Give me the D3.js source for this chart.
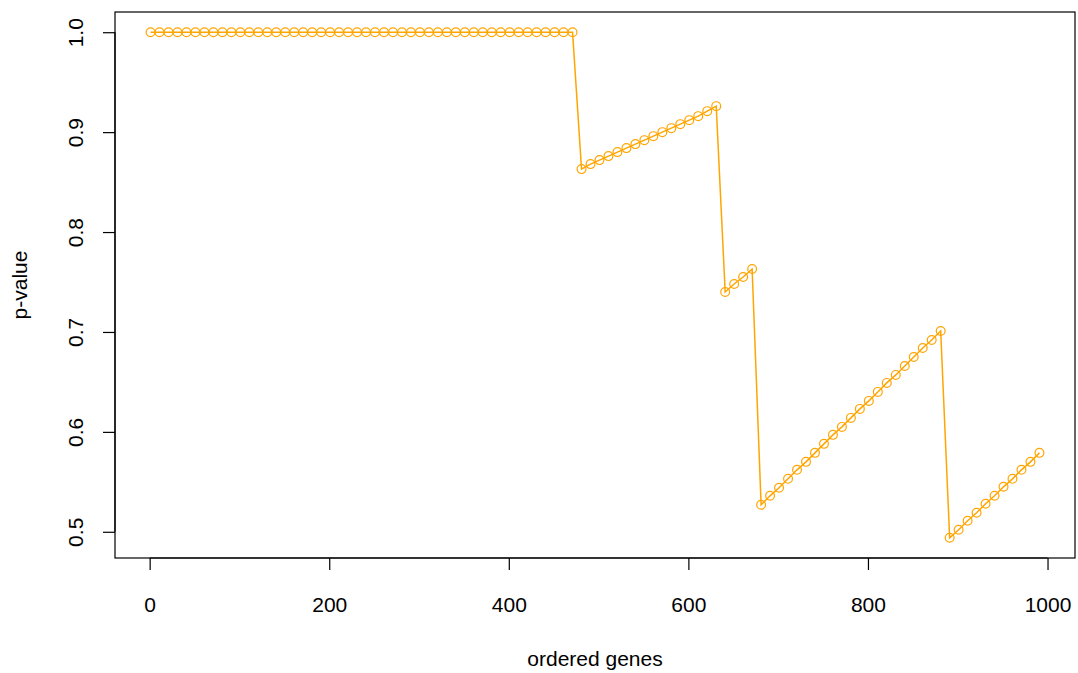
<!DOCTYPE html>
<html>
<head>
<meta charset="utf-8">
<script src="https://cdn.jsdelivr.net/npm/d3@7"></script>
<style>
  html, body { margin: 0; padding: 0; background: #ffffff; }
  svg { display: block; }
  text { font-family: "Liberation Sans", Arial, sans-serif; fill: #000; }
</style>
</head>
<body>
<svg id="chart" width="1078" height="673"></svg>
<script>
// Gene rank (every 10th gene along the ordering)
const geneRank = [
  1, 11, 21, 31, 41, 51, 61, 71, 81, 91,
  101, 111, 121, 131, 141, 151, 161, 171, 181, 191,
  201, 211, 221, 231, 241, 251, 261, 271, 281, 291,
  301, 311, 321, 331, 341, 351, 361, 371, 381, 391,
  401, 411, 421, 431, 441, 451, 461, 471, 481, 491,
  501, 511, 521, 531, 541, 551, 561, 571, 581, 591,
  601, 611, 621, 631, 641, 651, 661, 671, 681, 691,
  701, 711, 721, 731, 741, 751, 761, 771, 781, 791,
  801, 811, 821, 831, 841, 851, 861, 871, 881, 891,
  901, 911, 921, 931, 941, 951, 961, 971, 981, 991
];

// p-value at each ranked gene
const pValue = [
  1, 1, 1, 1, 1, 1, 1, 1, 1, 1,
  1, 1, 1, 1, 1, 1, 1, 1, 1, 1,
  1, 1, 1, 1, 1, 1, 1, 1, 1, 1,
  1, 1, 1, 1, 1, 1, 1, 1, 1, 1,
  1, 1, 1, 1, 1, 1, 1, 1,
  0.863, 0.868, 0.872, 0.876, 0.880, 0.884, 0.888, 0.892,
  0.896, 0.900, 0.904, 0.908, 0.912, 0.916, 0.921, 0.926,
  0.740, 0.748, 0.755, 0.763,
  0.527, 0.536, 0.544, 0.553, 0.562, 0.570, 0.579, 0.588, 0.597, 0.605,
  0.614, 0.623, 0.631, 0.640, 0.649, 0.657, 0.666, 0.675, 0.684, 0.692, 0.701,
  0.494, 0.502, 0.511, 0.519, 0.528, 0.536, 0.545, 0.553, 0.562, 0.570, 0.579
];

const xTicks = [0, 200, 400, 600, 800, 1000];
const yTicks = [0.5, 0.6, 0.7, 0.8, 0.9, 1.0];

const xTitle = "ordered genes";
const yTitle = "p-value";
const seriesColor = "#FFA500";

const points = geneRank.map((g, i) => ({ x: g, y: pValue[i] }));

// Plot region
const box = { left: 115, right: 1075, top: 12, bottom: 558 };

// Data range padded by 4% on each side
function padded(ext) {
  const d = (ext[1] - ext[0]) * 0.04;
  return [ext[0] - d, ext[1] + d];
}

const x = d3.scaleLinear()
  .domain(padded(d3.extent(geneRank)))
  .range([box.left, box.right]);

const y = d3.scaleLinear()
  .domain(padded(d3.extent(pValue)))
  .range([box.bottom, box.top]);

const svg = d3.select("#chart");
const fontSize = 21;
const fontFamily = "'Liberation Sans', Arial, sans-serif";

// Series line
svg.append("path")
  .datum(points)
  .attr("fill", "none")
  .attr("stroke", seriesColor)
  .attr("stroke-width", 1.5)
  .attr("d", d3.line().x(d => x(d.x)).y(d => y(d.y)));

// Open circle markers
svg.append("g")
  .selectAll("circle")
  .data(points)
  .join("circle")
  .attr("cx", d => x(d.x))
  .attr("cy", d => y(d.y))
  .attr("r", 4.4)
  .attr("fill", "none")
  .attr("stroke", seriesColor)
  .attr("stroke-width", 1.2);

// Frame
svg.append("rect")
  .attr("x", box.left)
  .attr("y", box.top)
  .attr("width", box.right - box.left)
  .attr("height", box.bottom - box.top)
  .attr("fill", "none")
  .attr("stroke", "#000")
  .attr("stroke-width", 1.2);

// Bottom axis
const xAxis = svg.append("g")
  .attr("transform", `translate(0,${box.bottom})`)
  .call(d3.axisBottom(x).tickValues(xTicks).tickSize(12).tickFormat(d3.format("d")));
xAxis.select(".domain")
  .attr("d", `M${x(xTicks[0])},0H${x(xTicks[xTicks.length - 1])}`)
  .attr("stroke-width", 1.2);
xAxis.selectAll(".tick line").attr("stroke-width", 1.2);
xAxis.selectAll(".tick text")
  .attr("y", 0)
  .attr("dy", null)
  .attr("transform", "translate(0,54)")
  .style("font-size", fontSize + "px")
  .style("font-family", fontFamily)
  .attr("fill", "#000");

// Left axis with rotated labels
const yAxis = svg.append("g")
  .attr("transform", `translate(${box.left},0)`)
  .call(d3.axisLeft(y).tickValues(yTicks).tickSize(12).tickFormat(d3.format(".1f")));
yAxis.select(".domain")
  .attr("d", `M0,${y(yTicks[0])}V${y(yTicks[yTicks.length - 1])}`)
  .attr("stroke-width", 1.2);
yAxis.selectAll(".tick line").attr("stroke-width", 1.2);
yAxis.selectAll(".tick text")
  .attr("x", 0)
  .attr("dy", null)
  .attr("text-anchor", "middle")
  .attr("transform", `translate(${83 - box.left},0) rotate(-90)`)
  .style("font-size", fontSize + "px")
  .style("font-family", fontFamily)
  .attr("fill", "#000");

// Axis titles
svg.append("text")
  .attr("x", (box.left + box.right) / 2)
  .attr("y", 666)
  .attr("text-anchor", "middle")
  .style("font-size", fontSize + "px")
  .text(xTitle);

svg.append("text")
  .attr("transform", `translate(27,${(box.top + box.bottom) / 2}) rotate(-90)`)
  .attr("text-anchor", "middle")
  .style("font-size", fontSize + "px")
  .text(yTitle);
</script>
</body>
</html>
